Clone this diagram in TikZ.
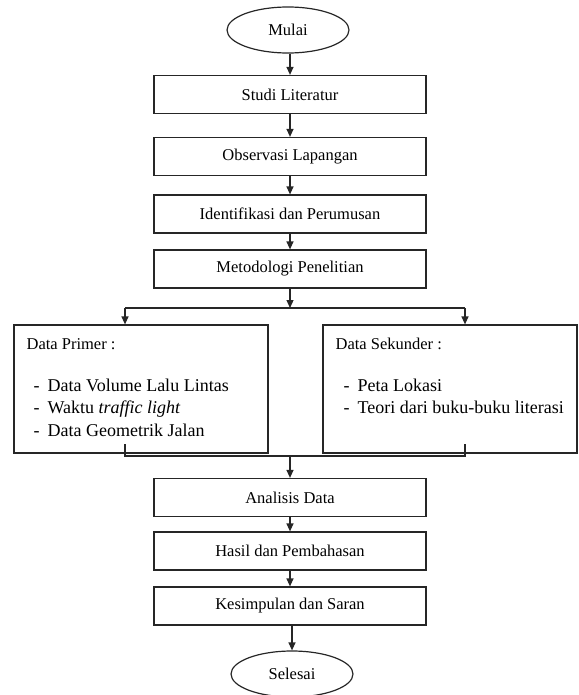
\documentclass[tikz,border=0pt]{standalone}
\usepackage{fontspec}
\setmainfont{Liberation Serif}
\usetikzlibrary{shapes.geometric,arrows.meta}
\begin{document}
\begin{tikzpicture}[x=1pt,y=-1pt,
  line width=1.2pt, draw=black!85,
  stepbox/.style={draw, minimum width=272pt, minimum height=38pt, inner sep=0pt, font=\fontsize{16.5}{20}\selectfont},
  term/.style={ellipse, draw, minimum width=122pt, minimum height=46pt, inner sep=0pt, font=\fontsize{16.5}{20}\selectfont},
  databox/.style={draw, minimum height=128pt, inner sep=0pt},
  hdr/.style={anchor=base west, inner sep=0pt, font=\fontsize{16.5}{20}\selectfont},
  itm/.style={anchor=base west, inner sep=0pt, font=\fontsize{18}{22}\selectfont},
  arr/.style={-{Triangle[length=8pt,width=7pt]}}
]
\useasboundingbox (0,0) rectangle (578,695);
\node[term] (mulai) at (288,30) {Mulai};
\node[stepbox] (s1) at (290,94.5) {Studi Literatur};
\node[stepbox] (s2) at (290,156.5) {Observasi Lapangan};
\node[stepbox] (s3) at (290,214) {Identifikasi dan Perumusan};
\node[stepbox] (s4) at (290,269) {Metodologi Penelitian};
\node[databox, minimum width=254pt] (dp) at (141,389) {};
\node[databox, minimum width=254pt] (ds) at (450,389) {};
\node[hdr] (dph) at (26,349) {Data Primer :};
\node[itm] (dpd1) at (33,391) {-};
\node[itm] (dpi1) at (47,391) {Data Volume Lalu Lintas};
\node[itm] (dpd2) at (33,413.5) {-};
\node[itm] (dpi2) at (47,413.5) {Waktu \textit{traffic light}};
\node[itm] (dpd3) at (33,436) {-};
\node[itm] (dpi3) at (47,436) {Data Geometrik Jalan};
\node[hdr] (dsh) at (335,349) {Data Sekunder :};
\node[itm] (dsd1) at (343,391) {-};
\node[itm] (dsi1) at (357,391) {Peta Lokasi};
\node[itm] (dsd2) at (343,413.5) {-};
\node[itm] (dsi2) at (357,413.5) {Teori dari buku-buku literasi};
\node[stepbox] (s5) at (290,497.5) {Analisis Data};
\node[stepbox] (s6) at (290,551) {Hasil dan Pembahasan};
\node[stepbox] (s7) at (290,606) {Kesimpulan dan Saran};
\node[term] (selesai) at (292,674) {Selesai};
% connectors
\draw[arr] (mulai.south -| s1.north) -- (s1);
\draw[arr] (s1) -- (s2);
\draw[arr] (s2) -- (s3);
\draw[arr] (s3) -- (s4);
\coordinate (bc) at (290,308);
\coordinate (bl) at (125,308);
\coordinate (br) at (465,308);
\draw[arr] (s4) -- (bc);
\draw (bl) -- (br);
\draw[arr] (bl) -- (bl |- dp.north);
\draw[arr] (br) -- (br |- ds.north);
\coordinate (ml) at (125,444);
\coordinate (mr) at (465,444);
\coordinate (mc) at (290,456);
\draw (ml) -- (125,456) -- (465,456) -- (mr);
\draw[arr] (mc) -- (s5);
\draw[arr] (s5) -- (s6);
\draw[arr] (s6) -- (s7);
\draw[arr] (s7.south -| selesai.north) -- (selesai);
\end{tikzpicture}
\end{document}
